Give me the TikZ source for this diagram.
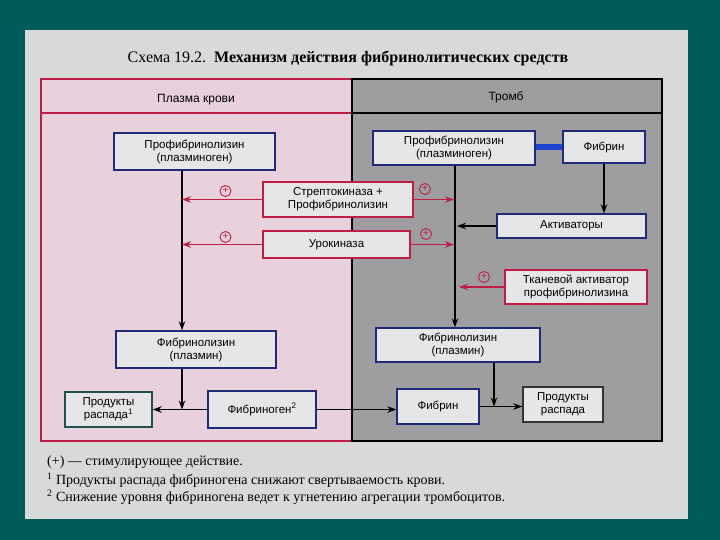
\documentclass[tikz,border=0pt]{standalone}
\usepackage{fontspec}
\setmainfont{Liberation Serif}
\setsansfont{Liberation Sans}
\usetikzlibrary{arrows.meta,positioning,calc}

\definecolor{slide}{RGB}{0,92,88}
\definecolor{page}{RGB}{216,218,218}
\definecolor{pinkpanel}{RGB}{232,208,220}
\definecolor{graypanel}{RGB}{158,158,160}
\definecolor{boxfill}{RGB}{230,230,232}
\definecolor{boxline}{RGB}{32,42,120}
\definecolor{crimson}{RGB}{190,30,70}
\definecolor{tealline}{RGB}{30,80,80}
\definecolor{linkblue}{RGB}{30,70,210}

\begin{document}
\begin{tikzpicture}[
    x=1pt, y=-1pt,
    box/.style={rectangle, draw=boxline, fill=boxfill, line width=1.5pt, align=center, inner sep=2pt, font=\sffamily\fontsize{11.5}{13}\selectfont},
    redbox/.style={box, draw=crimson},
    head/.style={font=\sffamily\fontsize{12}{14}\selectfont},
    note/.style={anchor=west, inner sep=0pt, font=\fontsize{14}{16}\selectfont},
    arrow/.style={-{Stealth[length=9pt,width=6.5pt]}, line width=1.4pt, draw=black},
    redarrow/.style={arrow, draw=crimson, line width=1.6pt},
    plus/.style={circle, draw=crimson, text=crimson, line width=0.9pt, inner sep=0pt, minimum size=11pt, font=\sffamily\fontsize{10}{10}\selectfont}
]
    \useasboundingbox (0,0) rectangle (720,540);
    % Slide and page
    \fill[slide] (0,0) rectangle (720,540);
    \fill[page] (25,30) rectangle (688,519);

    % Panels
    \fill[pinkpanel] (41,79) rectangle (352,441);
    \fill[graypanel] (352,79) rectangle (662,441);
    \draw[crimson, line width=1.2pt] (352,79) -- (41,79) -- (41,441) -- (352,441);
    \draw[crimson, line width=1.2pt] (41,113) -- (352,113);
    \draw[black, line width=1.5pt] (352,79) rectangle (662,441);
    \draw[black, line width=1.2pt] (352,113) -- (662,113);

    % Title and headers
    \node (title) at (348,58) {\fontsize{16}{18}\selectfont Схема 19.2.\ \ \textbf{Механизм действия фибринолитических средств}};
    \node[head] (plasma) at (196,100) {Плазма крови};
    \node[head] (thromb) at (506,97) {Тромб};

    % Axes
    \coordinate (axL) at (182,0);
    \coordinate (axR) at (455,0);
    \coordinate (axD) at (494,0);

    % Plasma
    \node[box, minimum width=161pt, minimum height=37pt] (pl1) at (194.5,151.5) {Профибринолизин\\(плазминоген)};
    \node[box, minimum width=160pt, minimum height=37pt] (pl2) at (196,349.5) {Фибринолизин\\(плазмин)};
    \node[box, draw=tealline, minimum width=87pt, minimum height=35pt] (prodL) at (108.5,409.5) {Продукты\\распада\textsuperscript{1}};
    \node[box, minimum width=108pt, minimum height=37pt] (fbg) at (262,409.5) {Фибриноген\textsuperscript{2}};

    % Drugs
    \node[redbox, minimum width=150pt, minimum height=35pt] (sk) at (338,199.5) {Стрептокиназа +\\Профибринолизин};
    \node[redbox, minimum width=147pt, minimum height=27pt] (uk) at (336.5,244.5) {Урокиназа};

    % Thrombus
    \node[box, minimum width=162pt, minimum height=34pt] (pr1) at (454,148) {Профибринолизин\\(плазминоген)};
    \node[box, minimum width=82pt, minimum height=32pt] (fbt) at (604,147) {Фибрин};
    \node[box, minimum width=149pt, minimum height=24pt] (act) at (571.5,226) {Активаторы};
    \node[redbox, minimum width=142pt, minimum height=34pt] (tpa) at (576,287) {Тканевой активатор\\профибринолизина};
    \node[box, minimum width=164pt, minimum height=34pt] (pr2) at (458,345) {Фибринолизин\\(плазмин)};
    \node[box, minimum width=82pt, minimum height=35pt] (fbb) at (438,406.5) {Фибрин};
    \node[box, draw=black!80, minimum width=80pt, minimum height=35pt] (prodR) at (563,404.5) {Продукты\\распада};

    % Plus signs
    \node[plus] (p1) at (225.5,191) {+};
    \node[plus] (p2) at (225.5,237) {+};
    \node[plus] (p3) at (425,189) {+};
    \node[plus] (p4) at (426,234) {+};
    \node[plus] (p5) at (484,277) {+};

    % Arrows
    \draw[linkblue, line width=6pt] (pr1.east |- fbt.west) -- (fbt.west);
    \draw[arrow] (pl1.south -| axL) -- (pl2.north -| axL);
    \draw[arrow] (pr1.south -| axR) -- (pr2.north -| axR);
    \draw[redarrow] (sk.west) -- (sk.west -| axL);
    \draw[redarrow] (uk.west) -- (uk.west -| axL);
    \draw[redarrow] (sk.east) -- ([xshift=-1pt]sk.east -| axR);
    \draw[redarrow] (uk.east) -- ([xshift=-1pt]uk.east -| axR);
    \draw[arrow] (fbt.south) -- (act.north -| fbt.south);
    \draw[arrow] (act.west) -- ([xshift=2pt]act.west -| axR);
    \draw[redarrow] (tpa.west) -- ([xshift=4pt]tpa.west -| axR);
    \draw[arrow] (fbg.west) -- (prodL.east |- fbg.west);
    \draw[arrow] (pl2.south -| axL) -- (fbg.west -| axL);
    \draw[arrow] (fbg.east) -- (fbb.west |- fbg.east);
    \draw[arrow] (fbb.east) -- (prodR.west |- fbb.east);
    \draw[arrow] (pr2.south -| axD) -- (fbb.east -| axD);

    % Notes
    \node[note] (n1) at (47,462) {(+) — стимулирующее действие.};
    \node[note] (n2) at (47,480) {\textsuperscript{1} Продукты распада фибриногена снижают свертываемость крови.};
    \node[note] (n3) at (47,497) {\textsuperscript{2} Снижение уровня фибриногена ведет к угнетению агрегации тромбоцитов.};
\end{tikzpicture}
\end{document}
